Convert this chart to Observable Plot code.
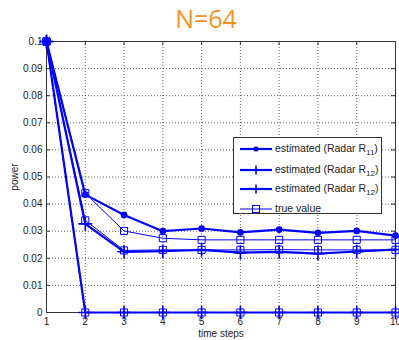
<!DOCTYPE html>
<html><head><meta charset="utf-8">
<script src="https://cdn.jsdelivr.net/npm/d3@7"></script>
<script src="https://cdn.jsdelivr.net/npm/@observablehq/plot@0.6"></script>
<style>
body{margin:0;background:#fff;font-family:"Liberation Sans",Arial,sans-serif}
#wrap{position:relative;width:399px;height:340px;overflow:hidden}
#title{height:36px;position:relative}
#title span{position:absolute;left:0;width:412px;top:6px;text-align:center;font-family:"Open Sans",sans-serif;font-size:25px;line-height:25px;color:#f7931e}
#chart svg{display:block}
.legend{position:absolute;left:233px;top:137px;width:147px;height:75px;border:1px solid #333;background:#fff}
.row{position:absolute;left:0;height:16px;width:147px}
.row svg{position:absolute;left:5px;top:2px}
.row span{position:absolute;left:41px;top:1px;font-size:10.5px;color:#222;white-space:nowrap;line-height:13px}
.row sub{font-size:8px;vertical-align:-3px;line-height:0}
</style></head>
<body>
<div id="wrap">
<div id="title"><span>N=64</span></div>
<div id="chart"></div>
<div class="legend" id="legend"></div>
</div>
<script>
const steps = [1,2,3,4,5,6,7,8,9,10];
const estR11  = [0.1, 0.0435, 0.036, 0.0300, 0.0310, 0.0296, 0.0306, 0.0294, 0.0301, 0.0284];
const estR12a = [0.1, 0.0327, 0.0224, 0.0226, 0.0231, 0.0221, 0.0224, 0.0217, 0.0225, 0.0232];
const estR12b = [0.1, 0, 0, 0, 0, 0, 0, 0, 0, 0];
const true1   = [0.1, 0.0440, 0.0301, 0.0274, 0.0268, 0.0268, 0.0268, 0.0268, 0.0268, 0.0268];
const true2   = [0.1, 0.0340, 0.0229, 0.0231, 0.0231, 0.0231, 0.0232, 0.0231, 0.0231, 0.0231];
const true3   = [0.1, 0, 0, 0, 0, 0, 0, 0, 0, 0];
const xTicks = [1,2,3,4,5,6,7,8,9,10];
const yTicks = [0,0.01,0.02,0.03,0.04,0.05,0.06,0.07,0.08,0.09,0.1];
const legendLabels = ["estimated (Radar R<sub>11</sub>)","estimated (Radar R<sub>12</sub>)","estimated (Radar R<sub>12</sub>)","true value"];

const tidy = (arr, name) => arr.map((v,i) => ({step: steps[i], value: v, series: name}));
const estDot = tidy(estR11, "r11");
const estPlus = [...tidy(estR12a, "r12a"), ...tidy(estR12b, "r12b")];
const truth = [...tidy(true1, "t1"), ...tidy(true2, "t2"), ...tidy(true3, "t3")];
const blue = "#0000ff";

const chart = Plot.plot({
  width: 399, height: 304,
  marginTop: 5, marginBottom: 28, marginLeft: 46, marginRight: 4,
  style: {fontFamily: "'Liberation Sans', Arial, sans-serif", fontSize: "10px", color: "#333", background: "transparent", overflow: "visible"},
  x: {domain: [1,10]},
  y: {domain: [0,0.1]},
  marks: [
    Plot.gridX(xTicks.slice(1,-1), {stroke: "#666", strokeOpacity: 1, strokeDasharray: "1,2"}),
    Plot.gridY(yTicks.slice(1,-1), {stroke: "#666", strokeOpacity: 1, strokeDasharray: "1,2"}),
    Plot.axisX({ticks: xTicks, tickSize: 0, tickPadding: 5, tickFormat: d => String(d), label: "time steps", labelAnchor: "center", labelArrow: "none", labelOffset: 24, fill: "#222"}),
    Plot.axisY({ticks: yTicks, tickSize: 0, tickPadding: 4, tickFormat: d => String(+d.toFixed(2)), label: "power", labelAnchor: "center", labelArrow: "none", labelOffset: 36, fill: "#222"}),
    Plot.ruleX(xTicks, {x: d => d, y1: 0, y2: 0.0015, stroke: "#333"}),
    Plot.ruleX(xTicks, {x: d => d, y1: 0.1, y2: 0.0985, stroke: "#333"}),
    Plot.ruleY(yTicks, {y: d => d, x1: 1, x2: 1.1, stroke: "#333"}),
    Plot.ruleY(yTicks, {y: d => d, x1: 10, x2: 9.9, stroke: "#333"}),
    Plot.frame({stroke: "#333"}),
    Plot.line(truth, {x: "step", y: "value", z: "series", stroke: blue, strokeWidth: 1}),
    Plot.dot(truth, {x: "step", y: "value", symbol: "square", r: 4, stroke: blue, strokeWidth: 1, fill: "none"}),
    Plot.line(estPlus, {x: "step", y: "value", z: "series", stroke: blue, strokeWidth: 2.2}),
    Plot.dot(estPlus, {x: "step", y: "value", symbol: "plus", r: 4.5, stroke: blue, strokeWidth: 1.6}),
    Plot.line(estDot, {x: "step", y: "value", z: "series", stroke: blue, strokeWidth: 2.2}),
    Plot.dot(estDot, {x: "step", y: "value", r: 2.6, fill: blue, stroke: blue})
  ]
});
document.getElementById("chart").appendChild(chart);

const leg = document.getElementById("legend");
const rowTops = [3, 24, 43, 63];
legendLabels.forEach((lab, i) => {
  const row = document.createElement("div");
  row.className = "row";
  row.style.top = rowTops[i] + "px";
  let marker;
  if (i === 0) marker = `<circle cx="17" cy="6" r="2.6" fill="${blue}"/>`;
  else if (i < 3) marker = `<path d="M17 1.5V10.5M12.5 6H21.5" stroke="${blue}" stroke-width="1.6"/>`;
  else marker = `<rect x="13.5" y="2.5" width="7" height="7" fill="none" stroke="${blue}" stroke-width="1"/>`;
  const sw = i < 3 ? 2.2 : 1;
  row.innerHTML = `<svg width="34" height="12"><line x1="1" x2="33" y1="6" y2="6" stroke="${blue}" stroke-width="${sw}"/>${marker}</svg><span>${lab}</span>`;
  leg.appendChild(row);
});
</script>
</body></html>
